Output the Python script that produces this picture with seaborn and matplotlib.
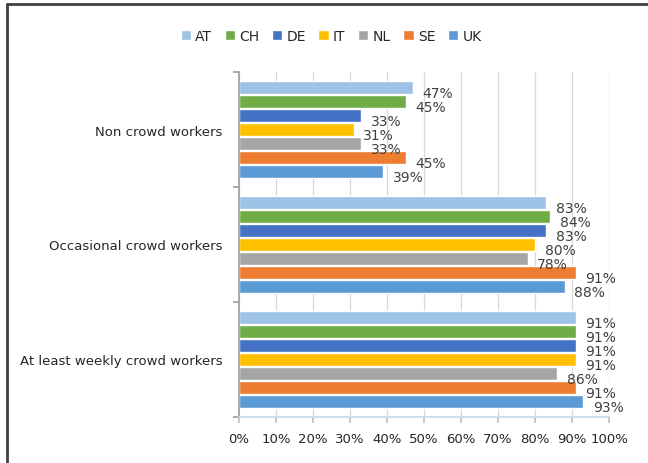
import numpy as np
import pandas as pd
import seaborn as sns
import matplotlib.pyplot as plt
from matplotlib.lines import Line2D
from matplotlib.ticker import PercentFormatter

# Data
groups = ["Non crowd workers", "Occasional crowd workers", "At least weekly crowd workers"]
countries = ["AT", "CH", "DE", "IT", "NL", "SE", "UK"]
non_crowd = [47, 45, 33, 31, 33, 45, 39]
occasional = [83, 84, 83, 80, 78, 91, 88]
weekly = [91, 91, 91, 91, 86, 91, 93]
colors = ["#9DC3E6", "#70AD47", "#4472C4", "#FFC000", "#A5A5A5", "#ED7D31", "#5B9BD5"]

rows = []
for g, vals in zip(groups, [non_crowd, occasional, weekly]):
    for c, v in zip(countries, vals):
        rows.append({"group": g, "country": c, "share": v})
df = pd.DataFrame(rows)

sns.set_theme(style="white")
plt.rcParams['font.family'] = ['DejaVu Sans']

fig = plt.figure(figsize=(6.48, 4.64), dpi=100)
ax = fig.add_axes([239 / 648, 1 - 418 / 464, 370 / 648, (418 - 73) / 464])

sns.barplot(data=df, y="group", x="share", hue="country", order=groups,
            hue_order=countries, palette=colors, saturation=1, orient="h",
            width=0.86, gap=0.08, ax=ax, legend=True)

# data labels, shifted down a little like the original
for cont in ax.containers:
    labels = ax.bar_label(cont, fmt="%d%%", fontsize=10, color="#404040")
    for t in labels:
        t.xyann = (7, -4)

ax.set_xlim(0, 100)
ax.set_xticks(np.arange(0, 101, 10))
ax.xaxis.set_major_formatter(PercentFormatter(decimals=0))
ax.set_xlabel("")
ax.set_ylabel("")
ax.grid(axis="x", color="#D9D9D9", linewidth=0.9)
ax.set_axisbelow(True)

# category boundary ticks on the y axis
ax.set_yticks([-0.5, 0.5, 1.5, 2.5], minor=False)
ax.set_yticklabels([])
ax.set_yticks([0, 1, 2], minor=True)
ax.set_yticklabels(groups, minor=True)
ax.set_ylim(2.5, -0.5)
ax.tick_params(axis="y", which="major", length=4, color="#A0A0A0", left=True)
ax.tick_params(axis="y", which="minor", length=0, pad=12, labelsize=9.5, labelcolor="#262626")
ax.tick_params(axis="x", length=4, color="#C0C0C0", bottom=True, pad=7, labelsize=9.5,
               labelcolor="#262626")

for s in ["top", "right"]:
    ax.spines[s].set_visible(False)
ax.spines["left"].set_color("#A0A0A0")
ax.spines["bottom"].set_color("#C9D9EA")

leg = ax.legend(loc="center", bbox_to_anchor=(331 / 648, 1 - 37 / 464),
                bbox_transform=fig.transFigure, ncol=7, frameon=False,
                handlelength=0.75, handleheight=0.75, handletextpad=0.3,
                columnspacing=0.9, fontsize=10)
for t in leg.get_texts():
    t.set_color("#262626")

# outer frame (top and left edges)
fig.add_artist(Line2D([7 / 648, 1], [1 - 5 / 464, 1 - 5 / 464], color="#404040", linewidth=2))
fig.add_artist(Line2D([7 / 648, 7 / 648], [0, 1 - 5 / 464], color="#404040", linewidth=2))

fig.savefig("out.png", dpi=100)
